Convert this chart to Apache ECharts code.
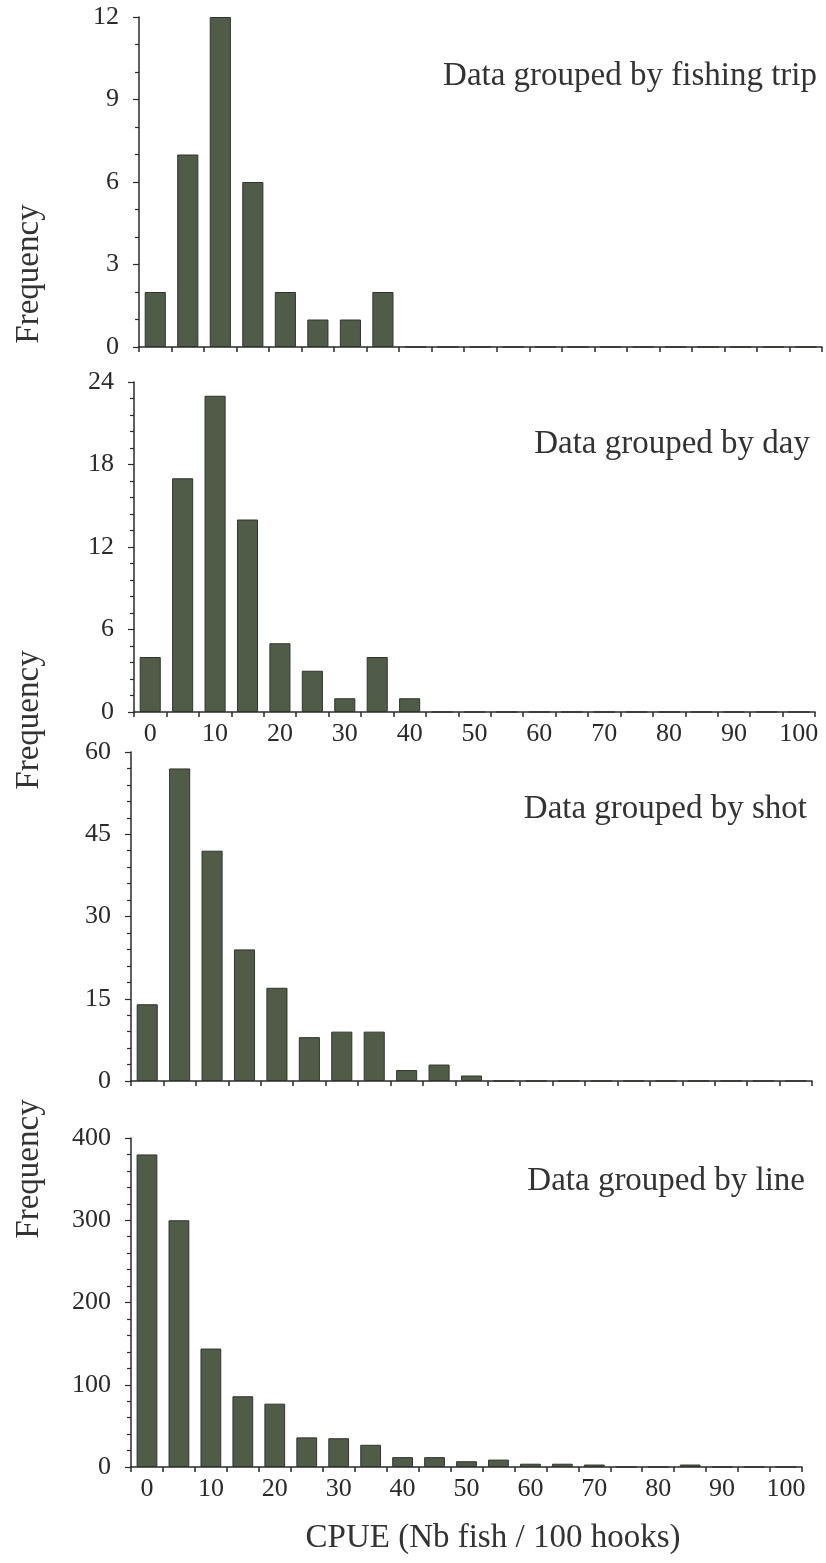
<!DOCTYPE html>
<html>
<head>
<meta charset="utf-8">
<script src="https://cdn.jsdelivr.net/npm/echarts@6/dist/echarts.min.js"></script>
<style>
  html, body { margin: 0; padding: 0; background: #fff; }
  #chart { width: 826px; height: 1563px; }
</style>
</head>
<body>
<div id="chart"></div>
<script>
// CPUE bins (Nb fish / 100 hooks), lower bound of each 5-wide class
let binStarts = ['0', '5', '10', '15', '20', '25', '30', '35', '40', '45', '50',
  '55', '60', '65', '70', '75', '80', '85', '90', '95', '100']

// frequencies
let tripCounts = [2, 7, 12, 6, 2, 1, 1, 2, 0, 0, 0, 0, 0, 0, 0, 0, 0, 0, 0, 0, 0]
let dayCounts = [4, 17, 23, 14, 5, 3, 1, 4, 1, 0, 0, 0, 0, 0, 0, 0, 0, 0, 0, 0, 0]
let shotCounts = [14, 57, 42, 24, 17, 8, 9, 9, 2, 3, 1, 0, 0, 0, 0, 0, 0, 0, 0, 0, 0]
let lineCounts = [380, 300, 144, 86, 77, 36, 35, 27, 12, 12, 7, 9, 4, 4, 3, 0, 0, 3, 0, 0, 0]

let panelTitles = ['Data grouped by fishing trip', 'Data grouped by day',
  'Data grouped by shot', 'Data grouped by line']
let yMax = [12, 24, 60, 400]
let yStep = [3, 6, 15, 100]
let yMinor = [3, 5, 5, 5]

let font = 'Liberation Serif, Times New Roman, serif'
let ink = '#2a2a2a'
let barFill = '#505b48'

// pixel boxes of the four plots
let grids = [
  { left: 139, top: 17, width: 683, height: 330 },
  { left: 134, top: 382, width: 681, height: 330 },
  { left: 131, top: 752, width: 681, height: 329 },
  { left: 131, top: 1138, width: 671, height: 329 }
]
let showXLabels = [false, true, false, true]
let allCounts = [tripCounts, dayCounts, shotCounts, lineCounts]

let chart = echarts.init(document.getElementById('chart'))

let xAxes = grids.map(function (g, i) {
  return {
    type: 'category',
    gridIndex: i,
    data: binStarts,
    boundaryGap: true,
    axisLine: { lineStyle: { color: ink, width: 1.5 } },
    axisTick: { show: true, interval: 0, length: 5, lineStyle: { color: ink, width: 1.5 } },
    axisLabel: {
      show: showXLabels[i],
      interval: 1,
      margin: 9,
      fontFamily: font,
      fontSize: 26,
      color: ink
    }
  }
})

let yAxes = grids.map(function (g, i) {
  return {
    type: 'value',
    gridIndex: i,
    min: 0,
    max: yMax[i],
    interval: yStep[i],
    splitLine: { show: false },
    axisLine: { show: true, lineStyle: { color: ink, width: 1.5 } },
    axisTick: { show: true, length: 6, lineStyle: { color: ink, width: 1.2 } },
    minorTick: { show: true, splitNumber: yMinor[i], length: 4, lineStyle: { color: ink, width: 1.2 } },
    axisLabel: {
      margin: 20,
      fontFamily: font,
      fontSize: 26,
      color: ink
    }
  }
})

let series = allCounts.map(function (counts, i) {
  return {
    type: 'bar',
    xAxisIndex: i,
    yAxisIndex: i,
    data: counts,
    barCategoryGap: '35%',
    itemStyle: {
      color: barFill,
      borderColor: '#30352c',
      borderWidth: 1
    }
  }
})

let titleRight = [4, 11, 14, 16]
let titleMid = [75, 443, 808, 1180]
let titles = panelTitles.map(function (t, i) {
  return {
    text: t,
    right: titleRight[i],
    top: titleMid[i] - 20,
    textStyle: { fontFamily: font, fontSize: 33, fontWeight: 'normal', color: '#333' }
  }
})

let freqY = [274, 720, 1169]
let graphics = freqY.map(function (y) {
  return {
    type: 'text',
    x: 29,
    y: y,
    rotation: Math.PI / 2,
    style: {
      text: 'Frequency',
      font: '33px ' + font,
      fill: '#333',
      align: 'center',
      verticalAlign: 'middle'
    }
  }
})
graphics.push({
  type: 'text',
  x: 493,
  y: 1538,
  style: {
    text: 'CPUE (Nb fish / 100 hooks)',
    font: '33px ' + font,
    fill: '#333',
    align: 'center',
    verticalAlign: 'middle'
  }
})

let option = {
  backgroundColor: '#ffffff',
  animation: false,
  title: titles,
  grid: grids,
  xAxis: xAxes,
  yAxis: yAxes,
  series: series,
  graphic: graphics
}

chart.setOption(option)
</script>
</body>
</html>
